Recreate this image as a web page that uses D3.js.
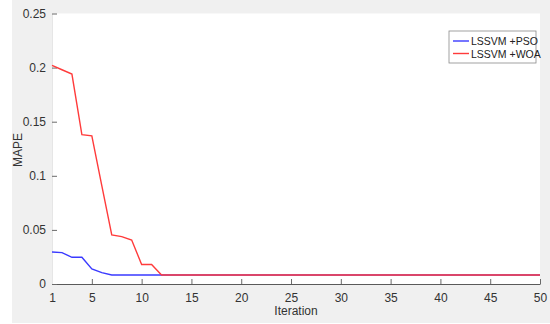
<!DOCTYPE html>
<html>
<head>
<meta charset="utf-8">
<script src="https://cdn.jsdelivr.net/npm/d3@7"></script>
<style>
  html, body { margin: 0; padding: 0; background: #ffffff; }
  svg { display: block; font-family: "Liberation Sans", Arial, sans-serif; }
</style>
</head>
<body>
<svg id="chart" width="550" height="324"></svg>
<script>
// Convergence curves: MAPE per iteration for two optimisers
const iterations = d3.range(1, 51);
const psoValues = [0.0296, 0.029, 0.0247, 0.0247, 0.0139, 0.0105, 0.0083]
  .concat(new Array(43).fill(0.0083));
const woaValues = [0.202, 0.198, 0.194, 0.138, 0.137, 0.091, 0.0454, 0.0438, 0.0407, 0.018, 0.018, 0.0083]
  .concat(new Array(38).fill(0.0083));
const seriesNames = ["LSSVM +PSO", "LSSVM +WOA"];
const seriesColors = ["#3a3aff", "#ff3b3b"];
const xTicks = [1, 5, 10, 15, 20, 25, 30, 35, 40, 45, 50];
const yTicks = [0, 0.05, 0.1, 0.15, 0.2, 0.25];

const svg = d3.select("#chart");
const W = 550, H = 324;
const plot = { left: 52, right: 540, top: 13.5, bottom: 284 };

// figure background
svg.append("rect").attr("x", 12).attr("y", 0).attr("width", W - 12).attr("height", 323)
  .attr("fill", "#f0f0f0");
// axes area
svg.append("rect").attr("x", plot.left).attr("y", plot.top)
  .attr("width", plot.right - plot.left).attr("height", plot.bottom - plot.top)
  .attr("fill", "#ffffff");

const x = d3.scaleLinear().domain([1, 50]).range([plot.left, plot.right]);
const y = d3.scaleLinear().domain([0, 0.25]).range([plot.bottom, plot.top]);

const fmt = d => d === 0 ? "0" : String(+d.toFixed(2));

// bottom axis (ticks point into the plot)
const xAxis = svg.append("g").attr("transform", `translate(0,${plot.bottom})`)
  .call(d3.axisBottom(x).tickValues(xTicks).tickSizeInner(-5).tickSizeOuter(0).tickPadding(9).tickFormat(d3.format("d")));
xAxis.select(".domain").attr("stroke", "#5a5a5a").attr("stroke-width", 1.2);
xAxis.selectAll(".tick line").attr("stroke", "#6a6a6a");
xAxis.selectAll("text").attr("fill", "#333").attr("font-size", 12);

// left axis
const yAxis = svg.append("g").attr("transform", `translate(${plot.left},0)`)
  .call(d3.axisLeft(y).tickValues(yTicks).tickSizeInner(-5).tickSizeOuter(0).tickPadding(6).tickFormat(fmt));
yAxis.select(".domain").attr("stroke", "#e6e6e6");
yAxis.selectAll(".tick line").attr("stroke", "#6a6a6a");
yAxis.selectAll("text").attr("fill", "#333").attr("font-size", 12);

// axis titles
svg.append("text").attr("x", 296).attr("y", 315).attr("text-anchor", "middle")
  .attr("font-size", 12).attr("fill", "#333").text("Iteration");
svg.append("text").attr("transform", "translate(22,150) rotate(-90)")
  .attr("text-anchor", "middle").attr("font-size", 12).attr("fill", "#333").text("MAPE");

// curves
const line = d3.line().x((d, i) => x(iterations[i])).y(d => y(d));
[psoValues, woaValues].forEach((vals, k) => {
  svg.append("path").datum(vals).attr("d", line)
    .attr("fill", "none").attr("stroke", seriesColors[k]).attr("stroke-width", 1.4);
});

// legend
const lg = svg.append("g").attr("transform", "translate(449,31)");
lg.append("rect").attr("width", 87).attr("height", 32)
  .attr("fill", "#ffffff").attr("stroke", "#8a8a8a").attr("stroke-width", 0.8);
seriesNames.forEach((name, k) => {
  const yy = 10 + k * 12.5;
  lg.append("line").attr("x1", 4).attr("x2", 20).attr("y1", yy).attr("y2", yy)
    .attr("stroke", seriesColors[k]).attr("stroke-width", 1.4);
  lg.append("text").attr("x", 22).attr("y", yy + 4).attr("font-size", 10.5)
    .attr("fill", "#222").text(name);
});
</script>
</body>
</html>
